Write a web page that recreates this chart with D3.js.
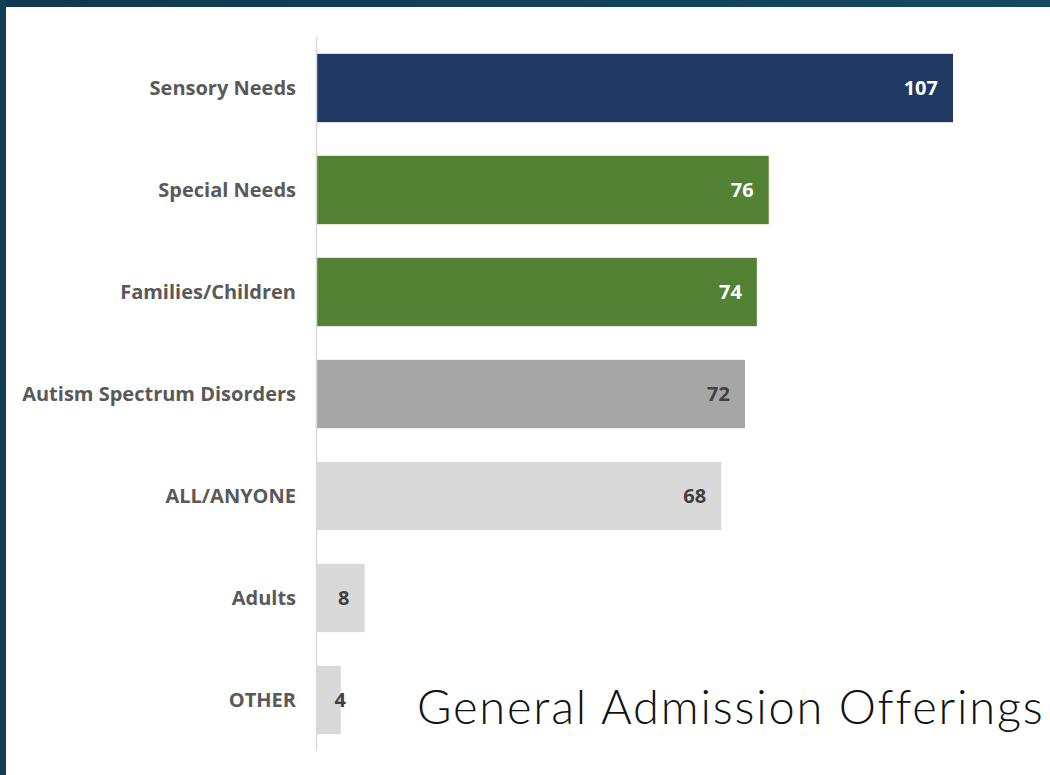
<!DOCTYPE html>
<html>
<head>
<meta charset="utf-8">
<script src="https://cdn.jsdelivr.net/npm/d3@7"></script>
<style>
  body { margin: 0; background: #fff; }
  svg { display: block; }
  .cat-label { font-family: "Open Sans", Lato, sans-serif; font-weight: 700; font-size: 20px; fill: #595959; }
  .val-label { font-family: "Open Sans", Lato, sans-serif; font-weight: 700; font-size: 20px; }
  .title { font-family: Lato, sans-serif; font-weight: 300; font-size: 47px; letter-spacing: 1.8px; fill: #111; }
</style>
</head>
<body>
<div id="chart"></div>
<script>
// data
const categories = ["Sensory Needs", "Special Needs", "Families/Children", "Autism Spectrum Disorders", "ALL/ANYONE", "Adults", "OTHER"];
const values = [107, 76, 74, 72, 68, 8, 4];
const barColors = ["#203864", "#548235", "#548235", "#a6a6a6", "#d9d9d9", "#d9d9d9", "#d9d9d9"];
const labelColors = ["#ffffff", "#ffffff", "#ffffff", "#404040", "#404040", "#404040", "#404040"];
const title = "General Admission Offerings";

const width = 1050, height = 775;

const svg = d3.select("#chart")
    .append("svg")
    .attr("width", width)
    .attr("height", height);

// frame bands
const defs = svg.append("defs");
const grad = defs.append("linearGradient")
    .attr("id", "frame")
    .attr("x1", "0%").attr("x2", "100%");
grad.append("stop").attr("offset", "0%").attr("stop-color", "#0f3850");
grad.append("stop").attr("offset", "100%").attr("stop-color", "#124a62");

svg.append("rect")
    .attr("x", 0).attr("y", 0)
    .attr("width", width).attr("height", 7)
    .attr("fill", "url(#frame)");
svg.append("rect")
    .attr("x", 0).attr("y", 0)
    .attr("width", 6).attr("height", height)
    .attr("fill", "#123f57");

const x = d3.scaleLinear()
    .domain([0, 107])
    .range([317, 953]);

const y = d3.scaleBand()
    .domain(categories)
    .range([37, 751])
    .paddingInner(0.33)
    .paddingOuter(0.165);

const rows = categories.map((c, i) => ({cat: c, val: values[i], color: barColors[i], lc: labelColors[i]}));

svg.selectAll(".bar")
    .data(rows)
    .enter().append("rect")
    .attr("class", "bar")
    .attr("x", x(0))
    .attr("y", d => y(d.cat))
    .attr("width", d => x(d.val) - x(0))
    .attr("height", y.bandwidth())
    .attr("fill", d => d.color);

// axis line
svg.append("line")
    .attr("x1", x(0) - 0.5).attr("x2", x(0) - 0.5)
    .attr("y1", 37).attr("y2", 751)
    .attr("stroke", "#d9d9d9")
    .attr("stroke-width", 1.5);

// category labels
svg.selectAll(".cat-label")
    .data(rows)
    .enter().append("text")
    .attr("class", "cat-label")
    .attr("x", x(0) - 21)
    .attr("y", d => y(d.cat) + y.bandwidth() / 2)
    .attr("dy", "0.35em")
    .attr("text-anchor", "end")
    .text(d => d.cat);

// value labels
svg.selectAll(".val-label")
    .data(rows)
    .enter().append("text")
    .attr("class", "val-label")
    .attr("x", d => Math.max(x(d.val) - 15, x(0) + 29))
    .attr("y", d => y(d.cat) + y.bandwidth() / 2)
    .attr("dy", "0.35em")
    .attr("text-anchor", "end")
    .attr("fill", d => d.lc)
    .text(d => d.val);

svg.append("text")
    .attr("class", "title")
    .attr("x", 417)
    .attr("y", 724)
    .text(title);
</script>
</body>
</html>
